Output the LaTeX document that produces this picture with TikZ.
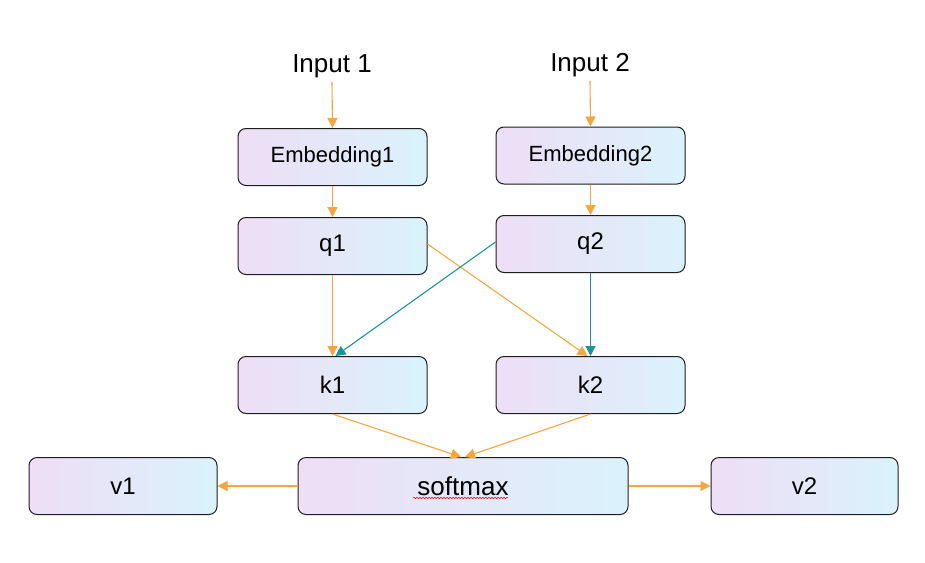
\documentclass[tikz,border=0pt]{standalone}
\usepackage{fontspec}
\setmainfont{Liberation Sans}
\usetikzlibrary{arrows.meta,decorations.pathmorphing}
\definecolor{arrOrange}{RGB}{245,166,60}
\definecolor{arrTeal}{RGB}{24,150,158}
\definecolor{gradL}{RGB}{238,222,246}
\definecolor{gradR}{RGB}{218,242,251}
\definecolor{edgeC}{RGB}{30,30,30}
\begin{document}
\begin{tikzpicture}[x=1pt,y=-1pt,
  box/.style={draw=edgeC, line width=1pt, rounded corners=8pt,
    left color=gradL, right color=gradR, minimum height=57pt, inner sep=0pt},
  colbox/.style={box, minimum width=189pt},
  lbl/.style={font=\fontsize{24}{27}\selectfont},
  oarr/.style={draw=arrOrange, line width=1.1pt, -{Triangle[length=10pt,width=10pt]}, arrOrange},
  tarr/.style={draw=arrTeal, line width=1.1pt, -{Triangle[length=10pt,width=10pt]}, arrTeal}
]
\useasboundingbox (0,0) rectangle (925,562);
\fill[white] (0,0) rectangle (925,562);

\node[font=\fontsize{26}{29}\selectfont, anchor=base] (in1) at (332,72) {Input 1};
\node[font=\fontsize{26}{29}\selectfont, anchor=base] (in2) at (590,71) {Input 2};

\node[colbox, font=\fontsize{22}{25}\selectfont] (emb1) at (332.5,157) {Embedding1};
\node[colbox, font=\fontsize{22}{25}\selectfont] (emb2) at (590.5,155.5) {Embedding2};
\node[colbox, lbl] (q1) at (332.5,246) {q1};
\node[colbox, lbl] (q2) at (590.5,244) {q2};
\node[colbox, lbl] (k1) at (332.5,385) {k1};
\node[colbox, lbl] (k2) at (590.5,385) {k2};
\node[box, minimum width=330pt, font=\fontsize{26}{29}\selectfont] (sm) at (463,486) {softmax};
\node[box, minimum width=188pt, lbl] (v1) at (123,486) {v1};
\node[box, minimum width=187pt, lbl] (v2) at (804.5,486) {v2};

\draw[red, line width=0.5pt, decorate, decoration={snake, amplitude=0.8pt, segment length=3pt}]
  ([xshift=-50pt,yshift=-12pt]sm.center) -- ([xshift=45pt,yshift=-12pt]sm.center);

\draw[oarr] ([yshift=-1pt]in1.south) -- (emb1.north);
\draw[oarr] ([yshift=-1pt]in2.south) -- (emb2.north);
\draw[oarr] (emb1.south) -- (q1.north);
\draw[oarr] (emb2.south) -- (q2.north);
\draw[oarr] (q1.south) -- (k1.north);
\draw[oarr] ([yshift=2pt]q1.east) -- ([xshift=-3pt]k2.north);
\draw[tarr] ([yshift=2pt]q2.west) -- ([xshift=3pt]k1.north);
\draw[tarr] (q2.south) -- (k2.north);
\draw[oarr] (k1.south) -- ([xshift=-2pt]sm.north);
\draw[oarr] (k2.south) -- ([xshift=2pt]sm.north);
\draw[oarr] (sm.west) -- (v1.east);
\draw[oarr] (sm.east) -- (v2.west);
\end{tikzpicture}
\end{document}
